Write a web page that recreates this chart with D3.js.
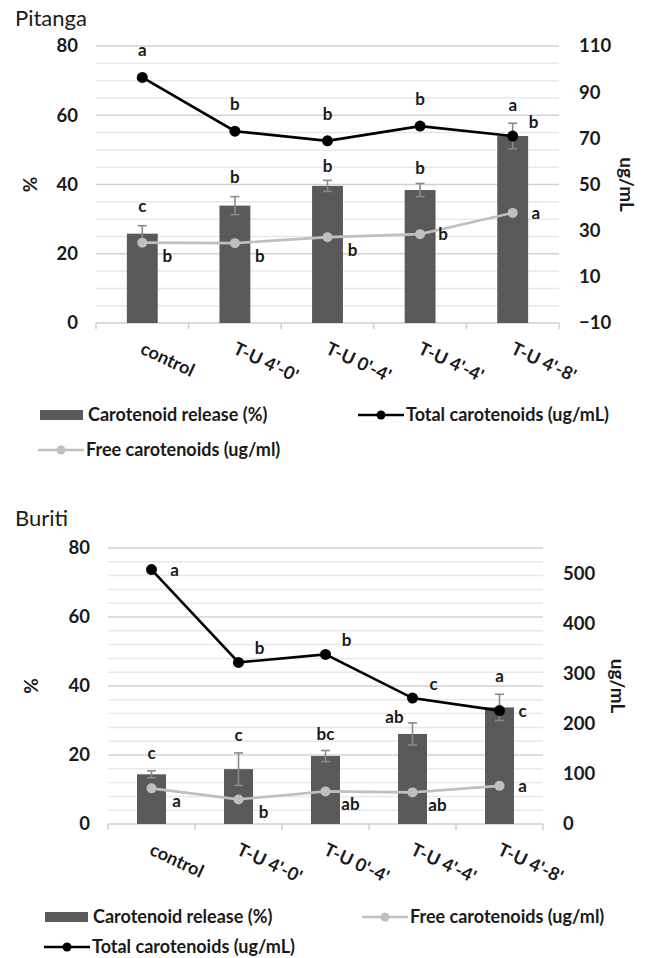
<!DOCTYPE html>
<html>
<head>
<meta charset="utf-8">
<script src="https://cdn.jsdelivr.net/npm/d3@7"></script>
<style>
  body { margin: 0; background: #fff; }
  text { font-family: Lato, "Open Sans", sans-serif; fill: #1a1a1a; }
</style>
</head>
<body>
<div id="chart"></div>
<script>
const categories = ["control", "T-U 4'-0'", "T-U 0'-4'", "T-U 4'-4'", "T-U 4'-8'"];
const leftTicks = [0, 20, 40, 60, 80];

// Pitanga
const pitangaRelease = [25.8, 33.9, 39.6, 38.4, 54.0];
const pitangaReleaseErr = [2.3, 2.6, 1.6, 1.9, 3.7];
const pitangaTotal = [96.4, 73.1, 68.9, 75.3, 71.0];
const pitangaFree = [24.8, 24.6, 27.2, 28.5, 37.7];
const pitangaReleaseLetters = ["c", "b", "b", "b", "a"];
const pitangaTotalLetters = ["a", "b", "b", "b", "b"];
const pitangaFreeLetters = ["b", "b", "b", "b", "a"];
const pitangaRightTicks = [-10, 10, 30, 50, 70, 90, 110];

// Buriti
const buritiRelease = [14.4, 15.9, 19.7, 26.1, 33.8];
const buritiReleaseErr = [1.0, 4.7, 1.6, 3.2, 3.8];
const buritiTotal = [507, 322, 338, 251, 226];
const buritiFree = [71, 49, 65, 63, 76];
const buritiReleaseLetters = ["c", "c", "bc", "ab", "a"];
const buritiTotalLetters = ["a", "b", "b", "c", "c"];
const buritiFreeLetters = ["a", "b", "ab", "ab", "a"];
const buritiRightTicks = [0, 100, 200, 300, 400, 500];

const svg = d3.select("#chart").append("svg")
  .attr("width", 646)
  .attr("height", 958);

// placement of letters next to line points: u = above, r = right, ur = up-right, dr = down-right
const placeOffset = {
  u: [0, -27], r: [23, 0], ur: [21, -14], dr: [25, 13]
};

function drawChart(cfg) {
  let g = svg.append("g");

  let x = d3.scaleBand()
    .domain(categories)
    .range([cfg.left, cfg.right]);

  let y = d3.scaleLinear()
    .domain([0, 80])
    .range([cfg.bottom, cfg.top]);

  let y2 = d3.scaleLinear()
    .domain(cfg.rightDomain)
    .range([cfg.bottom, cfg.top]);

  // title
  g.append("text")
    .attr("x", cfg.titleX)
    .attr("y", cfg.titleY)
    .style("font-size", "22px")
    .text(cfg.title);

  // gridlines
  let grid = d3.range(0, 80 + 0.001, cfg.minorStep).filter(d => d > 0);
  g.append("g").selectAll("line")
    .data(grid)
    .enter()
    .append("line")
    .attr("x1", cfg.left)
    .attr("x2", cfg.right)
    .attr("y1", d => y(d))
    .attr("y2", d => y(d))
    .attr("stroke", d => d % 20 === 0 ? "#d2d2d2" : "#e8e8e8")
    .attr("stroke-width", 1.5);

  // x axis line with tick marks between categories
  g.append("line")
    .attr("x1", cfg.left).attr("x2", cfg.right)
    .attr("y1", cfg.bottom).attr("y2", cfg.bottom)
    .attr("stroke", "#cfcfcf")
    .attr("stroke-width", 1.5);

  let edges = categories.map(c => x(c)).concat([cfg.right]);
  g.append("g").selectAll("line")
    .data(edges)
    .enter()
    .append("line")
    .attr("x1", d => d).attr("x2", d => d)
    .attr("y1", cfg.bottom).attr("y2", cfg.bottom + 6)
    .attr("stroke", "#cfcfcf")
    .attr("stroke-width", 1.5);

  // left axis
  let leftAxis = g.append("g")
    .attr("transform", `translate(${cfg.left - 18},0)`)
    .call(d3.axisLeft(y).tickValues(leftTicks).tickSize(0).tickPadding(0));
  leftAxis.select(".domain").remove();
  leftAxis.selectAll("text")
    .style("font-size", "18.5px")
    .style("font-weight", "bold")
    .attr("fill", "#1a1a1a")
    .attr("font-family", null);

  // right axis
  let rightAxis = g.append("g")
    .attr("transform", `translate(${cfg.right + 20},0)`)
    .call(d3.axisRight(y2).tickValues(cfg.rightTicks).tickSize(0).tickPadding(0));
  rightAxis.select(".domain").remove();
  rightAxis.selectAll("text")
    .style("font-size", "18.5px")
    .style("font-weight", "bold")
    .attr("fill", "#1a1a1a")
    .attr("font-family", null);

  // axis titles
  g.append("text")
    .attr("transform", `translate(${cfg.pctX},${(cfg.top + cfg.bottom) / 2}) rotate(-90)`)
    .style("text-anchor", "middle")
    .attr("dy", "0.35em")
    .style("font-size", "19px")
    .style("font-weight", "bold")
    .text("%");

  g.append("text")
    .attr("transform", `translate(${cfg.unitX},${(cfg.top + cfg.bottom) / 2}) rotate(90)`)
    .style("text-anchor", "middle")
    .attr("dy", "0.35em")
    .style("font-size", "19px")
    .style("font-weight", "bold")
    .text("ug/mL");

  // category labels
  g.append("g").selectAll("text")
    .data(categories)
    .enter()
    .append("text")
    .attr("transform", d => `translate(${x(d) + x.bandwidth() / 2 - 3},${cfg.bottom + 30}) rotate(25)`)
    .style("font-size", "18px")
    .style("font-weight", "bold")
    .text(d => d);

  let bw = x.bandwidth() / 3;
  let cx = c => x(c) + x.bandwidth() / 2;

  // bars
  g.append("g").selectAll("rect")
    .data(categories)
    .enter()
    .append("rect")
    .attr("x", c => cx(c) - bw / 2)
    .attr("y", (c, i) => y(cfg.release[i]))
    .attr("width", bw)
    .attr("height", (c, i) => cfg.bottom - y(cfg.release[i]))
    .attr("fill", "#595959");

  // error bars
  let err = g.append("g")
    .attr("stroke", "#8a8a8a")
    .attr("stroke-width", 1.6);
  categories.forEach(function(c, i) {
    let hi = y(cfg.release[i] + cfg.releaseErr[i]);
    let lo = y(cfg.release[i] - cfg.releaseErr[i]);
    err.append("line").attr("x1", cx(c)).attr("x2", cx(c)).attr("y1", hi).attr("y2", lo);
    err.append("line").attr("x1", cx(c) - 4.5).attr("x2", cx(c) + 4.5).attr("y1", hi).attr("y2", hi);
    err.append("line").attr("x1", cx(c) - 4.5).attr("x2", cx(c) + 4.5).attr("y1", lo).attr("y2", lo);
  });

  // bar letters (a few are nudged sideways, as in the original)
  g.append("g").selectAll("text")
    .data(categories)
    .enter()
    .append("text")
    .attr("x", (c, i) => cx(c) + cfg.barLetterShift[i][0])
    .attr("y", (c, i) => y(cfg.release[i] + cfg.releaseErr[i]) - 18 + cfg.barLetterShift[i][1])
    .attr("dy", "0.35em")
    .style("text-anchor", "middle")
    .style("font-size", "17px")
    .style("font-weight", "bold")
    .text((c, i) => cfg.releaseLetters[i]);

  // lines
  function drawSeries(values, color, r, letters, places) {
    let line = d3.line()
      .x((d, i) => cx(categories[i]))
      .y(d => y2(d));
    g.append("path")
      .datum(values)
      .attr("d", line)
      .attr("fill", "none")
      .attr("stroke", color)
      .attr("stroke-width", 2.6);
    g.append("g").selectAll("circle")
      .data(values)
      .enter()
      .append("circle")
      .attr("cx", (d, i) => cx(categories[i]))
      .attr("cy", d => y2(d))
      .attr("r", r)
      .attr("fill", color);
    g.append("g").selectAll("text")
      .data(values)
      .enter()
      .append("text")
      .attr("x", (d, i) => cx(categories[i]) + placeOffset[places[i]][0])
      .attr("y", (d, i) => y2(d) + placeOffset[places[i]][1])
      .attr("dy", "0.35em")
      .style("text-anchor", "middle")
      .style("font-size", "17px")
      .style("font-weight", "bold")
      .text((d, i) => letters[i]);
  }

  cfg.series.forEach(s => drawSeries(s.values, s.color, s.r, s.letters, s.places));

  // legend
  cfg.legend.forEach(function(item) {
    let lg = g.append("g").attr("transform", `translate(${item.x},${item.y})`);
    if (item.type === "bar") {
      lg.append("rect")
        .attr("x", 0).attr("y", -5)
        .attr("width", 43).attr("height", 10)
        .attr("fill", "#595959");
    } else {
      lg.append("line")
        .attr("x1", 0).attr("x2", 46)
        .attr("y1", 0).attr("y2", 0)
        .attr("stroke", item.color)
        .attr("stroke-width", 2.6);
      lg.append("circle")
        .attr("cx", 23).attr("cy", 0)
        .attr("r", 4.5)
        .attr("fill", item.color);
    }
    lg.append("text")
      .attr("x", 48)
      .attr("y", 0)
      .attr("dy", "0.35em")
      .style("font-size", "18px")
      .style("font-weight", "bold")
      .text(item.label);
  });
}

drawChart({
  title: "Pitanga", titleX: 15, titleY: 26,
  left: 96, right: 559, top: 46, bottom: 323,
  minorStep: 5,
  rightDomain: [-10, 110], rightTicks: pitangaRightTicks,
  pctX: 30, unitX: 627,
  release: pitangaRelease, releaseErr: pitangaReleaseErr, releaseLetters: pitangaReleaseLetters,
  barLetterShift: [[0, -2], [0, -2], [0, 4], [0, 3], [0, 0]],
  series: [
    {values: pitangaFree, color: "#bfbfbf", r: 5, letters: pitangaFreeLetters, places: ["dr", "dr", "dr", "r", "r"]},
    {values: pitangaTotal, color: "#000", r: 5.5, letters: pitangaTotalLetters, places: ["u", "u", "u", "u", "ur"]}
  ],
  legend: [
    {type: "bar", x: 40, y: 415, label: "Carotenoid release (%)"},
    {type: "line", color: "#000", x: 358, y: 415, label: "Total carotenoids (ug/mL)"},
    {type: "line", color: "#bfbfbf", x: 38, y: 450, label: "Free carotenoids (ug/ml)"}
  ]
});

drawChart({
  title: "Buriti", titleX: 15, titleY: 526,
  left: 108, right: 543, top: 548, bottom: 824,
  minorStep: 4,
  rightDomain: [0, 550], rightTicks: buritiRightTicks,
  pctX: 31, unitX: 618,
  release: buritiRelease, releaseErr: buritiReleaseErr, releaseLetters: buritiReleaseLetters,
  barLetterShift: [[0, 0], [0, 0], [0, 2], [-18, 12], [0, 0]],
  series: [
    {values: buritiFree, color: "#bfbfbf", r: 5, letters: buritiFreeLetters, places: ["dr", "dr", "dr", "dr", "r"]},
    {values: buritiTotal, color: "#000", r: 5.5, letters: buritiTotalLetters, places: ["r", "ur", "ur", "ur", "r"]}
  ],
  legend: [
    {type: "bar", x: 45, y: 917, label: "Carotenoid release (%)"},
    {type: "line", color: "#bfbfbf", x: 362, y: 917, label: "Free carotenoids (ug/ml)"},
    {type: "line", color: "#000", x: 44, y: 947, label: "Total carotenoids (ug/mL)"}
  ]
});
</script>
</body>
</html>
